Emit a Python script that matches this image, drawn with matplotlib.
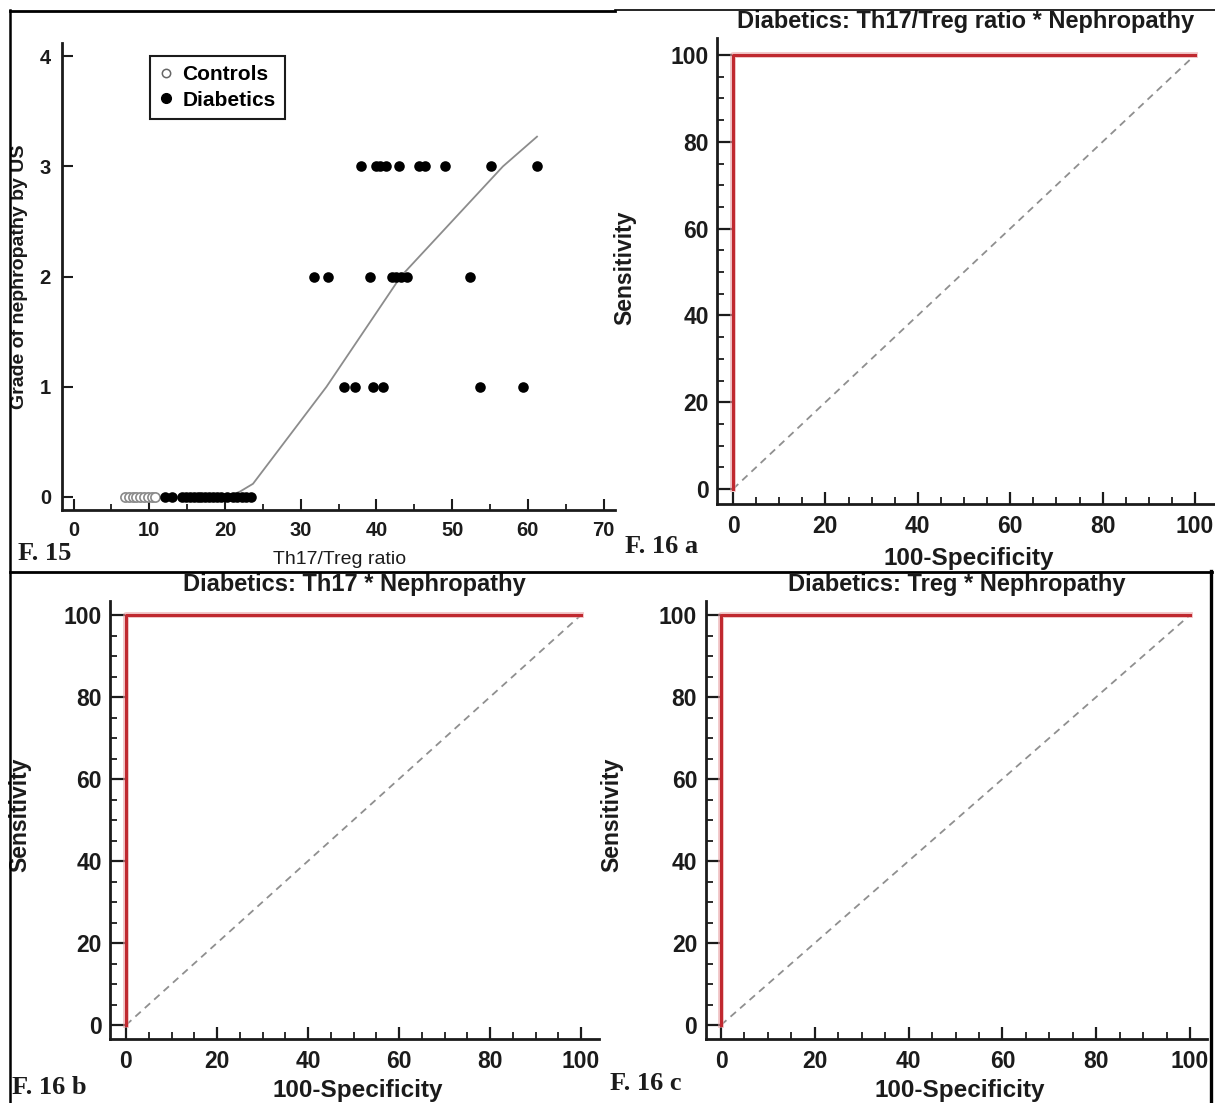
import matplotlib
matplotlib.use('Agg')
import matplotlib.pyplot as plt
from matplotlib.lines import Line2D
from matplotlib.ticker import MultipleLocator

W, H = 1215, 1103

# F.15 - grade of nephropathy vs Th17/Treg ratio
controls_x = [6.8, 7.3, 7.8, 8.3, 8.8, 9.3, 9.8, 10.3, 10.8]
controls_y = [0, 0, 0, 0, 0, 0, 0, 0, 0]
diab_x0 = [12.1, 13.0, 14.3, 14.9, 15.4, 15.9, 16.4, 16.9, 17.4, 17.9,
           18.4, 18.9, 19.5, 20.3, 21.0, 21.6, 22.2, 22.8, 23.5]
diab_x1 = [35.7, 37.2, 39.5, 40.8, 53.7, 59.3]
diab_x2 = [31.8, 33.6, 39.2, 42.0, 42.6, 43.3, 44.0, 52.3]
diab_x3 = [37.9, 39.9, 40.5, 41.2, 43.0, 45.6, 46.4, 49.0, 55.1, 61.2]
grades = [0, 1, 2, 3]
fit_x = [20.3, 22.0, 23.7, 33.4, 43.2, 56.7, 61.2]
fit_y = [0.0, 0.05, 0.12, 1.0, 2.0, 3.0, 3.27]

# F.16 - ROC curves (all three identical: AUC = 1)
roc_fpr = [0, 0, 100]
roc_tpr = [0, 100, 100]
diag = [0, 100]
roc_titles = ['Diabetics: Th17/Treg ratio * Nephropathy',
              'Diabetics: Th17 * Nephropathy',
              'Diabetics: Treg * Nephropathy']

SANS = ['Liberation Sans', 'DejaVu Sans']
NARROW = ['Liberation Sans Narrow', 'Liberation Sans', 'DejaVu Sans']
SERIF = ['Liberation Serif', 'DejaVu Serif']
INK = '#1b1b1b'

fig = plt.figure(figsize=(W / 100, H / 100), dpi=100)
fig.patch.set_facecolor('white')


def px_axes(x0, y0, x1, y1):
    return fig.add_axes([x0 / W, 1 - y1 / H, (x1 - x0) / W, (y1 - y0) / H])


def to_ax(box, px, py):
    x0, y0, x1, y1 = box
    return (px - x0) / (x1 - x0), (y1 - py) / (y1 - y0)


def base_style(ax):
    for s in ['top', 'right']:
        ax.spines[s].set_visible(False)
    for s in ['left', 'bottom']:
        ax.spines[s].set_linewidth(2.0)
        ax.spines[s].set_color(INK)
    ax.patch.set_alpha(0)


# ---- F.15 scatter
box15 = (62, 43, 615, 510)
ax = px_axes(*box15)
base_style(ax)
ax.plot(fit_x, fit_y, color='#8c8c8c', lw=1.3, zorder=1)
ax.scatter(controls_x, controls_y, s=44, facecolor='white', edgecolor='#8a8a8a',
           lw=1.2, zorder=3)
for g, xs in zip(grades, [diab_x0, diab_x1, diab_x2, diab_x3]):
    ax.scatter(xs, [g] * len(xs), s=58, color='black', lw=0, zorder=4)
ax.set_xlim(-1.52, 71.5)
ax.set_ylim(-0.118, 4.12)
ax.xaxis.set_major_locator(MultipleLocator(10))
ax.xaxis.set_minor_locator(MultipleLocator(5))
ax.yaxis.set_major_locator(MultipleLocator(1))
ax.tick_params(which='major', direction='in', length=8, width=1.5, color=INK, pad=8)
ax.tick_params(axis='x', which='minor', direction='in', length=4, width=1.3, color=INK)
for lab in ax.get_xticklabels() + ax.get_yticklabels():
    lab.set_fontfamily(NARROW)
    lab.set_fontweight('bold')
    lab.set_fontsize(14.5)
    lab.set_color(INK)
ax.set_xlabel('Th17/Treg ratio', family=NARROW, fontsize=14, color=INK, va='center')
ax.xaxis.set_label_coords(*to_ax(box15, 340, 560))
ax.set_ylabel('Grade of nephropathy by US', family=SANS, fontsize=14,
              fontweight='bold', color=INK, va='center')
ax.yaxis.set_label_coords(*to_ax(box15, 20, 277))
handles = [Line2D([], [], ls='none', marker='o', ms=6, mfc='white', mec='#666666',
                  mew=1.1, label='Controls'),
           Line2D([], [], ls='none', marker='o', ms=7, mfc='black', mec='black',
                  label='Diabetics')]
leg = ax.legend(handles=handles, loc='upper left',
                bbox_to_anchor=to_ax(box15, 150, 56), fancybox=False,
                edgecolor=INK, framealpha=1, handlelength=0.6, handletextpad=0.5,
                borderpad=0.45, labelspacing=0.3, borderaxespad=0,
                prop={'family': NARROW, 'weight': 'bold', 'size': 15})
leg.get_frame().set_linewidth(1.5)

# ---- F.16 ROC panels
roc_boxes = [(717, 38, 1215, 504), (110, 601, 599, 1039), (705.5, 601, 1207, 1039)]
roc_xzero = [(733, 1195), (126, 581), (721, 1190)]
roc_yzero = [(489, 55), (1025, 615), (1025, 615)]
xlab_pos = [(969, 558), (358, 1090), (960, 1090)]
ylab_pos = [(625, 268), (20, 815), (612, 815)]

for box, xz, yz, title, xl, yl in zip(roc_boxes, roc_xzero, roc_yzero, roc_titles,
                                      xlab_pos, ylab_pos):
    ax = px_axes(*box)
    base_style(ax)
    ax.plot(diag, diag, color='#8f8f8f', lw=1.3, dashes=(4, 3), zorder=2)
    ax.plot(roc_fpr, roc_tpr, color='#e8a0a4', lw=4.2, alpha=0.6, zorder=3)
    ax.plot(roc_fpr, roc_tpr, color='#c0282f', lw=2.2, zorder=4)
    x0, y0, x1, y1 = box
    kx = (xz[1] - xz[0]) / 100
    ky = (yz[0] - yz[1]) / 100
    ax.set_xlim((x0 - xz[0]) / kx, (x1 - xz[0]) / kx)
    ax.set_ylim((yz[0] - y1) / ky, (yz[0] - y0) / ky)
    for axis in [ax.xaxis, ax.yaxis]:
        axis.set_major_locator(MultipleLocator(20))
        axis.set_minor_locator(MultipleLocator(5))
    ax.tick_params(which='major', direction='in', width=1.6, color=INK)
    ax.tick_params(axis='x', which='major', length=9, pad=8)
    ax.tick_params(axis='y', which='major', length=11, pad=6)
    ax.tick_params(which='minor', direction='in', length=5, width=1.3, color=INK)
    for lab in ax.get_xticklabels() + ax.get_yticklabels():
        lab.set_fontfamily(SANS)
        lab.set_fontweight('bold')
        lab.set_fontsize(16.5)
        lab.set_color(INK)
    ax.set_title(title, family=SANS, fontweight='bold', fontsize=17, color=INK,
                 pad=7)
    ax.set_xlabel('100-Specificity', family=SANS, fontweight='bold', fontsize=17.5,
                  color=INK, va='center')
    ax.xaxis.set_label_coords(*to_ax(box, *xl))
    ax.set_ylabel('Sensitivity', family=SANS, fontweight='bold', fontsize=16.5,
                  color=INK, va='center')
    ax.yaxis.set_label_coords(*to_ax(box, *yl))

# panel tags
tags = [('F. 15', 18, 553), ('F. 16 a', 625, 547), ('F. 16 b', 12, 1088),
        ('F. 16 c', 610, 1083)]
for t, px, py in tags:
    fig.text(px / W, 1 - py / H, t, family=SERIF, fontweight='bold', fontsize=19,
             color=INK, ha='left', va='center')

# frame lines of the composite figure
def hline(y, xa, xb, lw):
    fig.add_artist(Line2D([xa / W, xb / W], [1 - y / H, 1 - y / H], color='black', lw=lw))


def vline(x, ya, yb, lw):
    fig.add_artist(Line2D([x / W, x / W], [1 - ya / H, 1 - yb / H], color='black', lw=lw))


hline(11, 10, 615, 2.0)
hline(10, 615, 1215, 1.2)
hline(572, 10, 1212, 2.0)
vline(10, 10, 1103, 1.8)
vline(1211, 571, 1103, 2.4)

fig.savefig('out.png', dpi=100, facecolor='white')
